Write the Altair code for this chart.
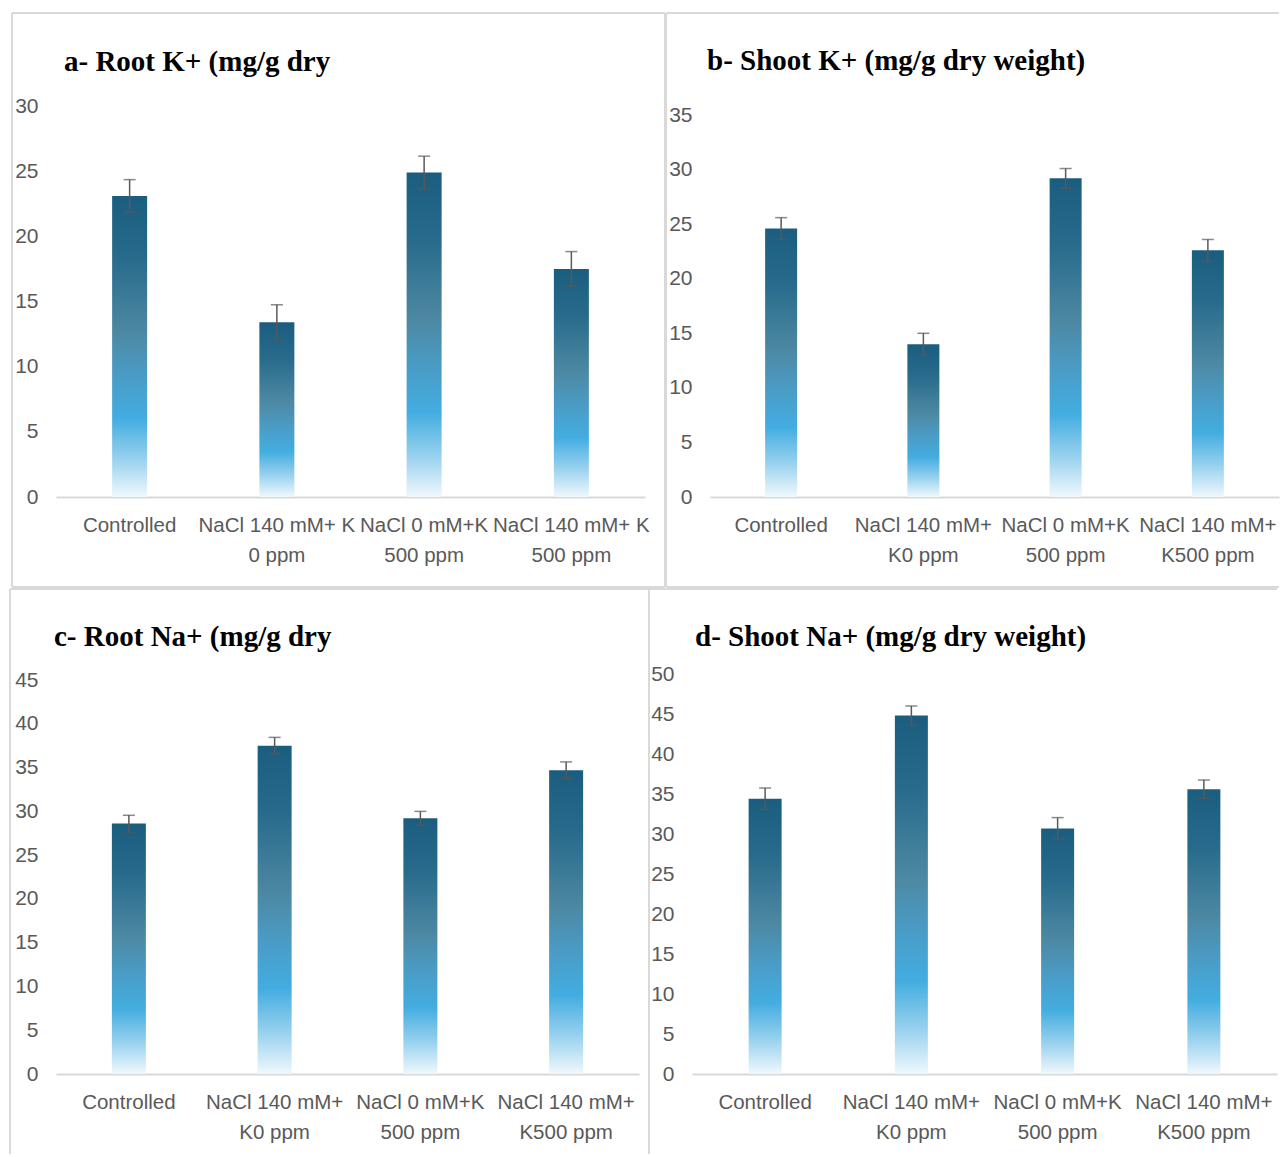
import altair as alt
import pandas as pd

# Treatments (x categories); "\n" marks the line break of each axis label
categories_a = [
    "Controlled",
    "NaCl 140 mM+ K\n0 ppm",
    "NaCl 0 mM+K\n500 ppm",
    "NaCl 140 mM+ K\n500 ppm",
]
categories_bcd = [
    "Controlled",
    "NaCl 140 mM+\nK0 ppm",
    "NaCl 0 mM+K\n500 ppm",
    "NaCl 140 mM+\nK500 ppm",
]

# Means and standard errors (mg/g dry weight)
root_k = [23.1, 13.4, 24.9, 17.5]
root_k_err = [1.25, 1.35, 1.25, 1.33]
shoot_k = [24.6, 14.0, 29.2, 22.6]
shoot_k_err = [1.0, 1.0, 0.9, 1.0]
root_na = [28.6, 37.5, 29.2, 34.7]
root_na_err = [0.95, 0.95, 0.8, 0.95]
shoot_na = [34.4, 44.8, 30.7, 35.6]
shoot_na_err = [1.35, 1.2, 1.35, 1.15]

panel_titles = [
    "a- Root K+ (mg/g dry",
    "b- Shoot K+ (mg/g dry weight)",
    "c- Root Na+ (mg/g dry",
    "d- Shoot Na+ (mg/g dry weight)",
]
# last labelled tick and top of each value axis
y_max = [30, 35, 45, 50]
y_top = [30, 35.83, 45.69, 50]

LABEL_FONT = "Liberation Sans"
LABEL_COLOR = "#595959"
FRAME_COLOR = "#d9d9d9"

bar_fill = alt.Gradient(
    gradient="linear", x1=0, x2=0, y1=0, y2=1,
    stops=[
        alt.GradientStop(offset=0.0, color="#1a5d7f"),
        alt.GradientStop(offset=0.2, color="#276a8b"),
        alt.GradientStop(offset=0.45, color="#4d88a2"),
        alt.GradientStop(offset=0.6, color="#4a9cc6"),
        alt.GradientStop(offset=0.74, color="#43ade0"),
        alt.GradientStop(offset=0.87, color="#95d0ee"),
        alt.GradientStop(offset=1.0, color="#f0f8fd"),
    ],
)

blank = alt.Data(values=[{}])


def frame_line(x, y, x2=None, y2=None):
    enc = {"x": alt.value(x), "y": alt.value(y)}
    if x2 is not None:
        enc["x2"] = alt.value(x2)
    if y2 is not None:
        enc["y2"] = alt.value(y2)
    return alt.Chart(blank).mark_rule(color=FRAME_COLOR, strokeWidth=2).encode(**enc)


def panel(cats, vals, errs, title, ymax, ytop, width, height, bar_size, title_xy, frame):
    df = pd.DataFrame({"treatment": cats, "value": vals, "err": errs})
    base = alt.Chart(df).transform_calculate(
        lo="datum.value - datum.err", hi="datum.value + datum.err"
    )
    x_scale = alt.Scale(paddingInner=0, paddingOuter=0)
    x_axis = alt.Axis(
        labelExpr="split(datum.label, '\\n')",
        labelAngle=0,
        labelFont=LABEL_FONT,
        labelFontSize=20.5,
        labelColor=LABEL_COLOR,
        labelLineHeight=30,
        labelPadding=18,
        labelLimit=400,
        labelOverlap=False,
        ticks=False,
        tickSize=0,
        grid=False,
        domainColor=FRAME_COLOR,
        domainWidth=2,
    )
    tick_values = list(range(0, ymax + 1, 5))
    y_axis = alt.Axis(
        values=tick_values,
        tickCount=len(tick_values) + 1,
        domain=False,
        ticks=False,
        tickSize=0,
        grid=False,
        labelOverlap=False,
        labelFont=LABEL_FONT,
        labelFontSize=21,
        labelColor=LABEL_COLOR,
        labelPadding=18,
    )
    y_scale = alt.Scale(domain=[0, ytop], nice=False)

    x_enc = alt.X("treatment:N", sort=cats, scale=x_scale, axis=x_axis, title=None)
    bars = base.mark_bar(size=bar_size, color=bar_fill).encode(
        x=x_enc,
        y=alt.Y("value:Q", scale=y_scale, axis=y_axis, title=None),
    )
    whisker = base.mark_rule(color=LABEL_COLOR, strokeWidth=1.5).encode(
        x=x_enc, y=alt.Y("lo:Q", title=None), y2="hi:Q"
    )
    cap_hi = base.mark_tick(color=LABEL_COLOR, size=12, thickness=1.5).encode(
        x=x_enc, y=alt.Y("hi:Q", title=None)
    )
    cap_lo = base.mark_tick(color=LABEL_COLOR, size=12, thickness=1.5).encode(
        x=x_enc, y=alt.Y("lo:Q", title=None)
    )
    heading = alt.Chart(pd.DataFrame({"title": [title]})).mark_text(
        align="left", baseline="alphabetic", font="Liberation Serif",
        fontSize=29, fontWeight="bold", color="black",
    ).encode(x=alt.value(title_xy[0]), y=alt.value(title_xy[1]), text="title:N")

    border = [frame_line(*seg) for seg in frame]
    return alt.layer(*border, bars, whisker, cap_hi, cap_lo, heading).properties(
        width=width, height=height
    )


chart_a = panel(
    categories_a, root_k, root_k_err, panel_titles[0], y_max[0], y_top[0],
    589, 391, 35, (8, -35),
    [(-44, -93, 609, None), (-44, 481, 609, None),
     (-44, -93, None, 481), (609, -93, None, 481)],
)
chart_b = panel(
    categories_bcd, shoot_k, shoot_k_err, panel_titles[1], y_max[1], y_top[1],
    569, 391, 32, (-3, -36),
    [(-44, -93, 569, None), (-44, 481, 569, None), (-44, -93, None, 481)],
)
chart_c = panel(
    categories_bcd, root_na, root_na_err, panel_titles[2], y_max[2], y_top[2],
    583, 400, 34, (-2, -28),
    [(-46, -85, 593, None), (-46, -85, None, 480), (593, -85, None, 480)],
)
chart_d = panel(
    categories_bcd, shoot_na, shoot_na_err, panel_titles[3], y_max[3], y_top[3],
    585, 400, 33, (3, -28),
    [(-43, -85, 585, None)],
)

chart = alt.vconcat(
    alt.hconcat(chart_a, chart_b, spacing=-1),
    alt.hconcat(chart_c, chart_d, spacing=-2),
    spacing=0,
).properties(
    padding={"left": 9, "top": 12, "right": 0, "bottom": 0}
).configure_view(strokeWidth=0)

chart.save("out.html", embed_options={"renderer": "svg", "actions": False})
